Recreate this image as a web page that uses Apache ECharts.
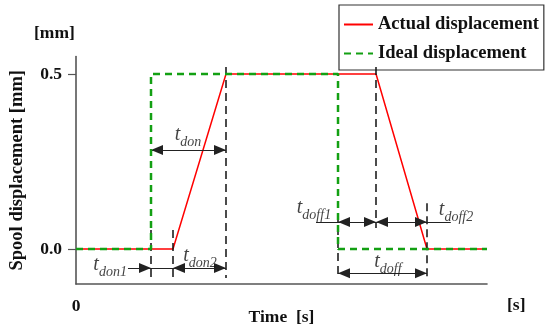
<!DOCTYPE html>
<html>
<head>
<meta charset="utf-8">
<script src="https://cdn.jsdelivr.net/npm/echarts@6/dist/echarts.min.js"></script>
<style>html,body{margin:0;padding:0;background:#fff}#c{width:550px;height:332px}</style>
</head>
<body>
<div id="c"></div>
<script>
// ---- data ----
const actualX = [0, 2.36, 3.65, 7.30, 8.54, 10];
const actualY = [0, 0, 0.5, 0.5, 0, 0];
const idealX = [0, 1.825, 1.825, 6.375, 6.375, 10];
const idealY = [0, 0, 0.5, 0.5, 0, 0];
const yTicks = [0, 0.5];
const xTicks = [0];
// annotation guide lines: [x, yFrom, yTo]
const guideLines = [
  [1.825, 0.054, -0.083],
  [2.36, 0.054, -0.083],
  [3.65, 0.52, -0.083],
  [6.375, 0.10, -0.083],
  [7.30, 0.52, 0.06],
  [8.54, 0.131, -0.083]
];
// dimension arrows: [x1, x2, y, startArrow, endArrow]
const dimArrows = [
  [1.825, 3.65, 0.283, 1, 1],
  [1.265, 1.825, -0.054, 0, 1],
  [1.825, 2.36, -0.054, 0, 0],
  [2.36, 3.65, -0.054, 1, 1],
  [5.84, 6.375, 0.077, 0, 0],
  [6.375, 7.30, 0.077, 1, 1],
  [7.30, 8.54, 0.077, 1, 1],
  [8.54, 9.12, 0.077, 0, 0],
  [6.375, 8.54, -0.069, 1, 1]
];
// annotation labels: [x, y, subscript]
const dimLabels = [
  [2.725, 0.326, 'don'],
  [0.83, -0.046, 'don1'],
  [3.017, -0.02, 'don2'],
  [5.79, 0.117, 'doff1'],
  [9.246, 0.111, 'doff2'],
  [7.59, -0.037, 'doff']
];

const serif = 'Liberation Serif';
const chart = echarts.init(document.getElementById('c'), null, {renderer: 'canvas'});

const markData = [];
guideLines.forEach(g => {
  markData.push([{coord: [g[0], g[1]], symbol: 'none', lineStyle: {color: '#111', width: 1.5, type: [8, 5]}},
                 {coord: [g[0], g[2]], symbol: 'none'}]);
});
dimArrows.forEach(a => {
  markData.push([{coord: [a[0], a[2]], symbol: a[3] ? 'triangle' : 'none', lineStyle: {color: '#222', width: 1, type: 'solid'}},
                 {coord: [a[1], a[2]], symbol: a[4] ? 'triangle' : 'none'}]);
});

const txt = {fontFamily: serif, fontWeight: 'bold', fontSize: 17.5, color: '#111'};

chart.setOption({
  animation: false,
  grid: {left: 76, top: 56.5, right: 63, bottom: 48, containLabel: false, outerBoundsMode: 'none'},
  legend: {
    data: ['Actual displacement', 'Ideal displacement'],
    orient: 'vertical', left: 339, top: 5,
    backgroundColor: '#fff', borderColor: '#333', borderWidth: 1.2, borderRadius: 0,
    padding: [10, 5, 7, 4], itemGap: 10, itemWidth: 29, itemHeight: 14,
    itemStyle: {opacity: 0},
    textStyle: {fontFamily: serif, fontWeight: 'bold', fontSize: 18.5, color: '#111'}
  },
  xAxis: {
    type: 'value', min: 0, max: 10,
    name: 'Time  [s]', nameLocation: 'middle', nameGap: 24, nameMoveOverlap: false,
    nameTextStyle: txt,
    axisLine: {show: true, onZero: false, lineStyle: {color: '#555', width: 1.6}},
    axisTick: {show: false},
    axisLabel: Object.assign({show: true, customValues: xTicks, formatter: v => String(v), margin: 13}, txt),
    splitLine: {show: false}
  },
  yAxis: {
    type: 'value', min: -0.1, max: 0.55,
    name: 'Spool displacement [mm]', nameLocation: 'middle', nameGap: 49, nameMoveOverlap: false,
    nameTextStyle: Object.assign({}, txt, {fontSize: 18.5}),
    axisLine: {show: true, onZero: false, lineStyle: {color: '#555', width: 1.6}},
    axisTick: {show: true, customValues: yTicks, length: 8, lineStyle: {color: '#555', width: 1.2}},
    axisLabel: Object.assign({show: true, customValues: yTicks, formatter: v => v.toFixed(1), margin: 14}, txt),
    splitLine: {show: false}
  },
  graphic: [
    {type: 'text', left: 34, top: 24, style: {text: '[mm]', font: 'bold 17.5px "Liberation Serif"', fill: '#111'}},
    {type: 'text', left: 507, top: 296, style: {text: '[s]', font: 'bold 17.5px "Liberation Serif"', fill: '#111'}}
  ],
  series: [
    {
      name: 'annot', type: 'line', data: [], silent: true, z: 3,
      markLine: {silent: true, animation: false, symbolSize: [10, 12], symbolOffset: [[0, '50%'], [0, '50%']],
        label: {show: false}, emphasis: {disabled: true}, data: markData}
    },
    {
      name: 'Actual displacement', type: 'line', showSymbol: false, symbol: 'none', z: 4,
      data: actualX.map((x, i) => [x, actualY[i]]),
      lineStyle: {color: '#ff0000', width: 1.5}, itemStyle: {color: '#ff0000'}
    },
    {
      name: 'Ideal displacement', type: 'line', showSymbol: false, symbol: 'none', z: 5,
      data: idealX.map((x, i) => [x, idealY[i]]),
      lineStyle: {color: '#13a013', width: 2.5, type: [7, 5]}, itemStyle: {color: '#13a013'}
    },
    {
      name: 'labels', type: 'scatter', symbolSize: 0, silent: true, z: 6,
      data: dimLabels.map(l => ({value: [l[0], l[1]], sub: l[2]})),
      label: {
        show: true, position: 'inside',
        formatter: p => '{t|t}{s|' + p.data.sub + '}',
        rich: {
          t: {fontFamily: serif, fontStyle: 'italic', fontSize: 20, color: '#111', verticalAlign: 'bottom', lineHeight: 20},
          s: {fontFamily: serif, fontStyle: 'italic', fontSize: 14, color: '#111', verticalAlign: 'bottom', lineHeight: 20, padding: [0, 0, -4, 0]}
        }
      }
    }
  ]
});
</script>
</body>
</html>
